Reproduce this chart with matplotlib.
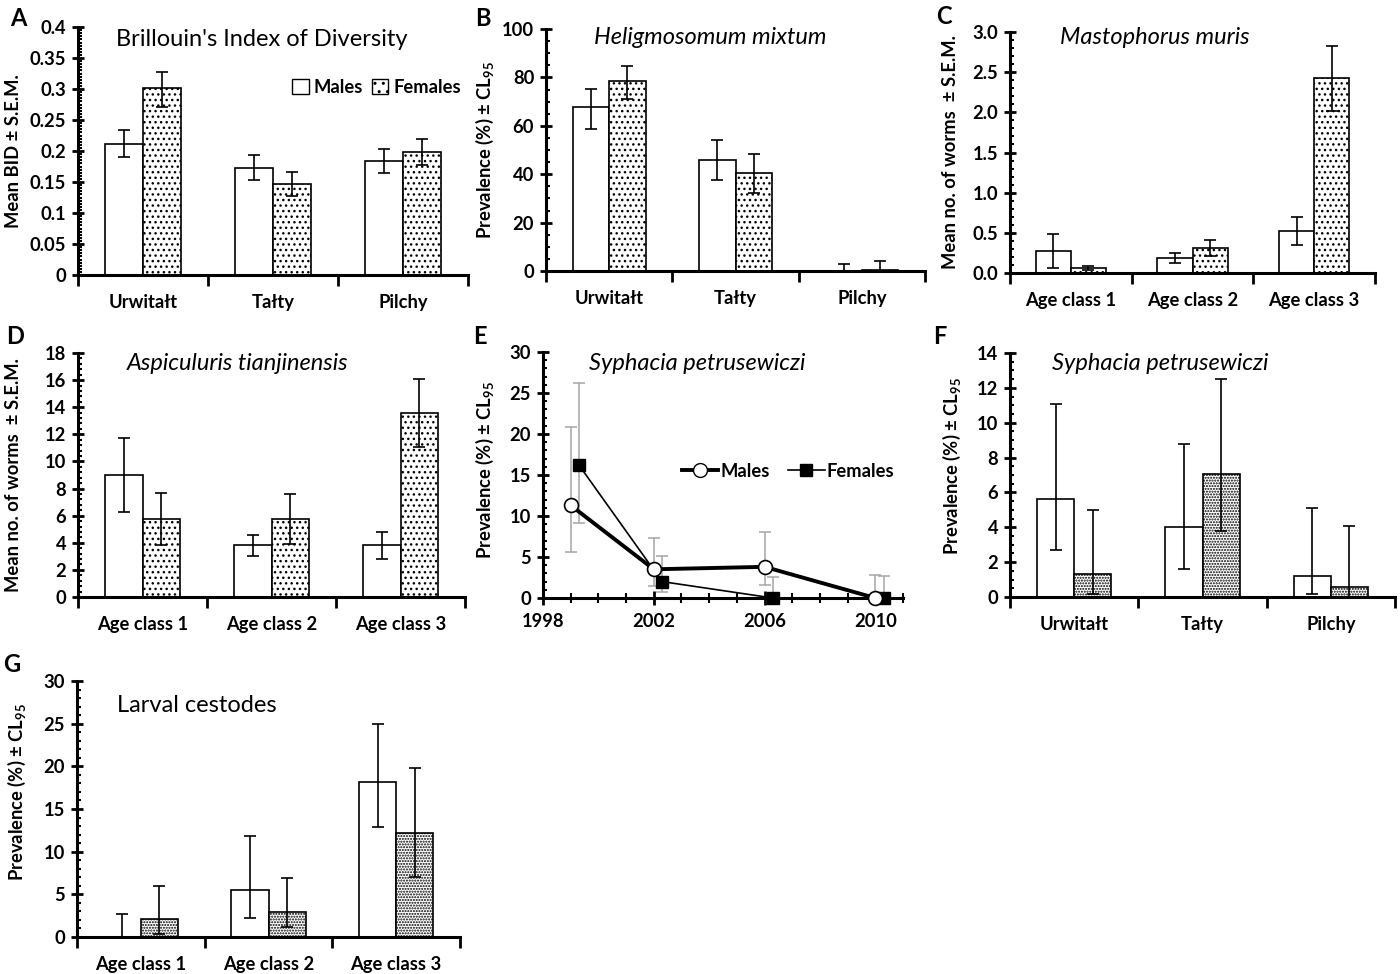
import numpy as np
import matplotlib
matplotlib.use("Agg")
import matplotlib.pyplot as plt
from matplotlib.ticker import MultipleLocator, FixedLocator, FuncFormatter
from matplotlib.patches import Patch
from matplotlib.lines import Line2D

plt.rcParams['font.family'] = ['Lato', 'DejaVu Sans']
plt.rcParams['mathtext.fontset'] = 'custom'
plt.rcParams['mathtext.rm'] = 'Lato'
plt.rcParams['mathtext.bf'] = 'Lato:bold'
plt.rcParams['hatch.linewidth'] = 1.0

sites = ['Urwitałt', 'Tałty', 'Pilchy']
ages = ['Age class 1', 'Age class 2', 'Age class 3']

# A - Brillouin's index (mean, lower, upper)
a_m = [0.212, 0.173, 0.184]
a_m_lo = [0.190, 0.153, 0.164]
a_m_hi = [0.234, 0.193, 0.204]
a_f = [0.301, 0.147, 0.198]
a_f_lo = [0.271, 0.127, 0.177]
a_f_hi = [0.328, 0.166, 0.219]

# B - Heligmosomum mixtum prevalence
b_m = [67.6, 45.9, 0.0]
b_m_lo = [58.8, 37.7, 0.0]
b_m_hi = [75.2, 54.3, 3.0]
b_f = [78.6, 40.3, 0.6]
b_f_lo = [71.0, 32.1, 0.0]
b_f_hi = [84.6, 48.3, 4.0]

# C - Mastophorus muris
c_m = [0.278, 0.187, 0.527]
c_m_lo = [0.066, 0.124, 0.344]
c_m_hi = [0.490, 0.249, 0.697]
c_f = [0.066, 0.311, 2.423]
c_f_lo = [0.040, 0.210, 2.020]
c_f_hi = [0.087, 0.410, 2.830]

# D - Aspiculuris tianjinensis
d_m = [9.02, 3.82, 3.80]
d_m_lo = [6.29, 3.03, 2.84]
d_m_hi = [11.76, 4.61, 4.76]
d_f = [5.72, 5.77, 13.59]
d_f_lo = [3.80, 3.92, 11.05]
d_f_hi = [7.64, 7.62, 16.10]

# E - Syphacia petrusewiczi by year
e_years_m = [1999.0, 2002.0, 2006.0, 2010.0]
e_years_f = [1999.3, 2002.3, 2006.3, 2010.3]
e_m = [11.3, 3.5, 3.8, 0.0]
e_m_lo = [5.6, 1.5, 1.6, 0.0]
e_m_hi = [20.8, 7.3, 8.1, 2.8]
e_f = [16.2, 2.0, 0.0, 0.0]
e_f_lo = [9.2, 0.7, 0.0, 0.0]
e_f_hi = [26.2, 5.1, 2.6, 2.7]

# F - Syphacia petrusewiczi by site
f_m = [5.60, 4.03, 1.21]
f_m_lo = [2.68, 1.63, 0.15]
f_m_hi = [11.07, 8.78, 5.08]
f_f = [1.34, 7.04, 0.58]
f_f_lo = [0.19, 3.80, 0.0]
f_f_hi = [5.02, 12.50, 4.07]

# G - Larval cestodes
g_m = [0.0, 5.47, 18.20]
g_m_lo = [0.0, 2.27, 12.89]
g_m_hi = [2.66, 11.84, 25.00]
g_f = [2.15, 2.97, 12.15]
g_f_lo = [0.30, 1.17, 7.03]
g_f_hi = [6.02, 6.95, 19.77]

W, H = 1400, 974
fig = plt.figure(figsize=(W / 100, H / 100), dpi=100)

prev_lab = 'Prevalence (%) ± CL$_{\\mathregular{95}}$'
FS = 13.2      # bold tick / axis text
TS = 17        # panel titles
LS = 17        # panel letters


def rect(x0, y0, x1, y1):
    return [x0 / W, 1 - y1 / H, (x1 - x0) / W, (y1 - y0) / H]


def ftext(x, y, s, **kw):
    fig.text(x / W, 1 - y / H, s, **kw)


def style_y(ax, ylim, major, minor, fmt):
    ax.set_ylim(*ylim)
    ax.yaxis.set_major_locator(MultipleLocator(major))
    ax.yaxis.set_minor_locator(MultipleLocator(minor))
    ax.yaxis.set_major_formatter(FuncFormatter(fmt))
    ax.tick_params(axis='y', which='major', direction='inout', length=9,
                   width=2, labelsize=FS, pad=4)
    ax.tick_params(axis='y', which='minor', direction='in', length=3, width=1.5)
    for lab in ax.get_yticklabels():
        lab.set_fontweight('bold')
    for s in ['top', 'right']:
        ax.spines[s].set_visible(False)
    for s in ['left', 'bottom']:
        ax.spines[s].set_linewidth(2.2)


def bar_panel(box, cats, m, mlo, mhi, f, flo, fhi, ylim, major, minor, fmt,
              hatch='...'):
    ax = fig.add_axes(rect(*box))
    x = np.arange(3) + 0.5
    w = 0.29
    ax.bar(x - w / 2, m, w, color='white', edgecolor='black', lw=1.2, zorder=2)
    ax.bar(x + w / 2, f, w, color='white', edgecolor='black', lw=1.2,
           hatch=hatch, zorder=2)
    ax.errorbar(x - w / 2, m, yerr=[np.array(m) - mlo, np.array(mhi) - m],
                fmt='none', ecolor='black', elinewidth=1.2, capsize=4,
                capthick=1.2, zorder=3)
    ax.errorbar(x + w / 2, f, yerr=[np.array(f) - flo, np.array(fhi) - f],
                fmt='none', ecolor='black', elinewidth=1.2, capsize=4,
                capthick=1.2, zorder=3)
    ax.set_xlim(0, 3)
    ax.xaxis.set_major_locator(FixedLocator([0, 1, 2, 3]))
    ax.xaxis.set_major_formatter(FuncFormatter(lambda v, p: ''))
    ax.xaxis.set_minor_locator(FixedLocator(list(x)))
    ax.set_xticklabels(cats, minor=True, fontsize=FS, fontweight='bold')
    ax.tick_params(axis='x', which='major', direction='out', length=8, width=2)
    ax.tick_params(axis='x', which='minor', length=0, pad=14)
    style_y(ax, ylim, major, minor, fmt)
    return ax


def gen(v, p):
    return ('%.2f' % v).rstrip('0').rstrip('.') if v != 0 else '0'


def one_dec(v, p):
    return '%.1f' % v


def integer(v, p):
    return '%d' % round(v)


# A
axA = bar_panel((78, 27, 468, 275), sites, a_m, a_m_lo, a_m_hi, a_f, a_f_lo,
                a_f_hi, (0, 0.4), 0.05, 0.005, gen)
axA.legend(handles=[Patch(facecolor='white', edgecolor='black', lw=1.0),
                    Patch(facecolor='white', edgecolor='black', lw=1.0,
                          hatch='..')],
           labels=['Males', 'Females'], ncol=2, frameon=False,
           loc='upper right', bbox_to_anchor=(1.0, 0.82),
           prop={'weight': 'bold', 'size': FS}, handlelength=0.9,
           handleheight=0.9, handletextpad=0.25, columnspacing=0.5,
           borderaxespad=0)
ftext(262, 40, "Brillouin's Index of Diversity", fontsize=TS, ha='center',
      va='center')
ftext(14, 151, 'Mean BID ± S.E.M.', rotation=90, fontsize=FS,
      fontweight='bold', ha='center', va='center')
ftext(18, 19, 'A', fontsize=LS, fontweight='bold', ha='center', va='center')

# B
bar_panel((546, 29, 925, 271), sites, b_m, b_m_lo, b_m_hi, b_f, b_f_lo,
          b_f_hi, (0, 100), 20, 5, integer)
ftext(710, 38, 'Heligmosomum mixtum', fontsize=TS, style='italic',
      ha='center', va='center')
ftext(485, 150, prev_lab, rotation=90, fontsize=FS, fontweight='bold',
      ha='center', va='center')
ftext(483, 19, 'B', fontsize=LS, fontweight='bold', ha='center', va='center')

# C
bar_panel((1010, 32, 1375, 273), ages, c_m, c_m_lo, c_m_hi, c_f, c_f_lo,
          c_f_hi, (0, 3.0), 0.5, 0.1, one_dec)
ftext(1155, 38, 'Mastophorus muris', fontsize=TS, style='italic',
      ha='center', va='center')
ftext(950, 152, 'Mean no. of worms  ± S.E.M.', rotation=90, fontsize=FS,
      fontweight='bold', ha='center', va='center')
ftext(944, 17, 'C', fontsize=LS, fontweight='bold', ha='center', va='center')

# D
bar_panel((78, 353, 465, 597), ages, d_m, d_m_lo, d_m_hi, d_f, d_f_lo,
          d_f_hi, (0, 18), 2, 0.4, integer)
ftext(238, 364, 'Aspiculuris tianjinensis', fontsize=TS, style='italic',
      ha='center', va='center')
ftext(14, 475, 'Mean no. of worms  ± S.E.M.', rotation=90, fontsize=FS,
      fontweight='bold', ha='center', va='center')
ftext(15, 336, 'D', fontsize=LS, fontweight='bold', ha='center', va='center')

# E
axE = fig.add_axes(rect(543, 352, 903, 598))
axE.errorbar(e_years_m, e_m, yerr=[np.array(e_m) - e_m_lo,
                                   np.array(e_m_hi) - e_m],
             fmt='none', ecolor='#a6a6a6', elinewidth=1.1, capsize=4,
             capthick=1.1, zorder=2, clip_on=False)
axE.errorbar(e_years_f, e_f, yerr=[np.array(e_f) - e_f_lo,
                                   np.array(e_f_hi) - e_f],
             fmt='none', ecolor='#a6a6a6', elinewidth=1.1, capsize=4,
             capthick=1.1, zorder=2, clip_on=False)
axE.plot(e_years_m, e_m, '-o', color='black', lw=2.8, mfc='white', mec='black',
         mew=1.2, ms=10, zorder=4, clip_on=False)
axE.plot(e_years_f, e_f, '-s', color='black', lw=1.2, mfc='black', mec='black',
         ms=9, zorder=3, clip_on=False)
axE.set_xlim(1998, 2011)
axE.xaxis.set_major_locator(FixedLocator([1998, 2002, 2006, 2010]))
axE.xaxis.set_minor_locator(MultipleLocator(1))
axE.tick_params(axis='x', which='major', direction='inout', length=10, width=2,
                labelsize=FS, pad=6)
axE.tick_params(axis='x', which='minor', direction='inout', length=7, width=1.5)
for lab in axE.get_xticklabels():
    lab.set_fontweight('bold')
style_y(axE, (0, 30), 5, 1, integer)
axE.legend(handles=[Line2D([], [], color='black', lw=2.8, marker='o', mfc='white',
                           mec='black', ms=10),
                    Line2D([], [], color='black', lw=1.2, marker='s', mfc='black',
                           ms=9)],
           labels=['Males', 'Females'], ncol=2, frameon=False,
           loc='center left', bbox_to_anchor=(0.365, 0.515),
           prop={'weight': 'bold', 'size': FS}, handlelength=2.0,
           handletextpad=0.1, columnspacing=1.0, borderaxespad=0)
ftext(697, 364, 'Syphacia petrusewiczi', fontsize=TS, style='italic',
      ha='center', va='center')
ftext(485, 470, prev_lab, rotation=90, fontsize=FS, fontweight='bold',
      ha='center', va='center')
ftext(480, 336, 'E', fontsize=LS, fontweight='bold', ha='center', va='center')

# F
bar_panel((1010, 353, 1395, 597), sites, f_m, f_m_lo, f_m_hi, f_f, f_f_lo,
          f_f_hi, (0, 14), 2, 0.5, integer, hatch='......')
ftext(1160, 364, 'Syphacia petrusewiczi', fontsize=TS, style='italic',
      ha='center', va='center')
ftext(952, 466, prev_lab, rotation=90, fontsize=FS, fontweight='bold',
      ha='center', va='center')
ftext(940, 336, 'F', fontsize=LS, fontweight='bold', ha='center', va='center')

# G
bar_panel((77, 681, 460, 937), ages, g_m, g_m_lo, g_m_hi, g_f, g_f_lo,
          g_f_hi, (0, 30), 5, 1, integer, hatch='......')
ftext(117, 705, 'Larval cestodes', fontsize=TS, ha='left', va='center')
ftext(17, 792, prev_lab, rotation=90, fontsize=FS, fontweight='bold',
      ha='center', va='center')
ftext(12, 664, 'G', fontsize=LS, fontweight='bold', ha='center', va='center')

fig.savefig('out.png', dpi=100)
